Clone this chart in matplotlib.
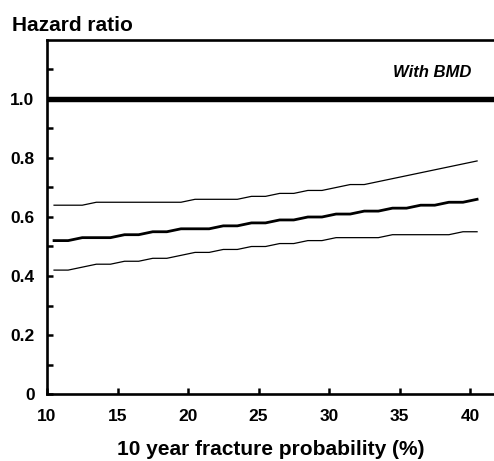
import numpy as np
import matplotlib
matplotlib.use("Agg")
import matplotlib.pyplot as plt
from matplotlib.ticker import FixedLocator

plt.rcParams['font.family'] = ['Liberation Sans', 'DejaVu Sans']
plt.rcParams['font.weight'] = 'bold'

# 10 year fracture probability (%)
prob = np.arange(10.5, 41.0, 1.0)

hr = [0.52, 0.52, 0.53, 0.53, 0.53, 0.54, 0.54, 0.55, 0.55, 0.56,
      0.56, 0.56, 0.57, 0.57, 0.58, 0.58, 0.59, 0.59, 0.60, 0.60,
      0.61, 0.61, 0.62, 0.62, 0.63, 0.63, 0.64, 0.64, 0.65, 0.65, 0.66]
upper = [0.64, 0.64, 0.64, 0.65, 0.65, 0.65, 0.65, 0.65, 0.65, 0.65,
         0.66, 0.66, 0.66, 0.66, 0.67, 0.67, 0.68, 0.68, 0.69, 0.69,
         0.70, 0.71, 0.71, 0.72, 0.73, 0.74, 0.75, 0.76, 0.77, 0.78, 0.79]
lower = [0.42, 0.42, 0.43, 0.44, 0.44, 0.45, 0.45, 0.46, 0.46, 0.47,
         0.48, 0.48, 0.49, 0.49, 0.50, 0.50, 0.51, 0.51, 0.52, 0.52,
         0.53, 0.53, 0.53, 0.53, 0.54, 0.54, 0.54, 0.54, 0.54, 0.55, 0.55]

ref_line = 1.0

fig = plt.figure(figsize=(4.94, 4.61), dpi=100)
ax = fig.add_axes([47/494, 67/461, 447/494, 354/461])

ax.axhline(ref_line, color='black', lw=3.9, solid_capstyle='butt')
ax.plot(prob, upper, color='black', lw=0.9)
ax.plot(prob, lower, color='black', lw=0.9)
ax.plot(prob, hr, color='black', lw=2.0)

ax.set_xlim(10, 41.7)
ax.set_ylim(0, 1.2)

ax.xaxis.set_major_locator(FixedLocator([10, 15, 20, 25, 30, 35, 40]))
ax.yaxis.set_major_locator(FixedLocator([0, 0.2, 0.4, 0.6, 0.8, 1.0]))
ax.yaxis.set_minor_locator(FixedLocator([0.1, 0.3, 0.5, 0.7, 0.9, 1.1]))
ax.set_yticklabels(['0', '0.2', '0.4', '0.6', '0.8', '1.0'])

ax.tick_params(which='both', direction='in', length=4, width=1.8,
               labelsize=12.5, top=False, right=False)
ax.tick_params(axis='x', pad=11)
ax.tick_params(axis='y', pad=9)

for s in ['left', 'bottom', 'top']:
    ax.spines[s].set_linewidth(1.9)
ax.spines['right'].set_visible(False)

ax.text(40.1, 1.09, 'With BMD', ha='right', va='center',
        fontsize=12, fontweight='bold', fontstyle='italic')

ax.set_xlabel('10 year fracture probability (%)', fontsize=15,
              fontweight='bold', labelpad=11)
fig.text(11.5/494, 1 - 31/461, 'Hazard ratio', fontsize=15,
         fontweight='bold', ha='left', va='baseline')

fig.savefig('out.png', dpi=100)
